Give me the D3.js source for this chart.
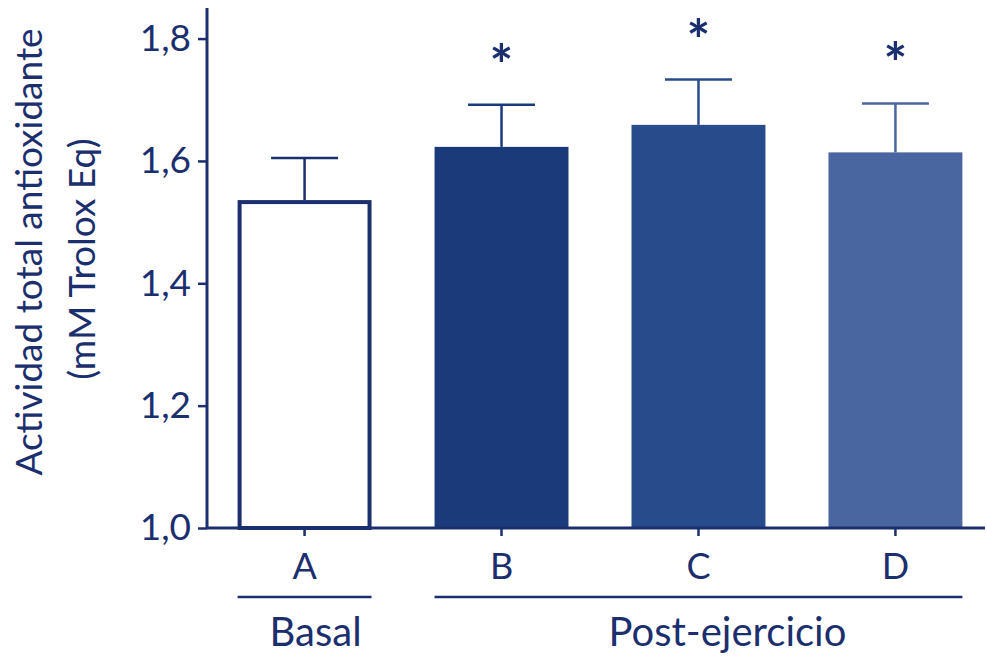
<!DOCTYPE html>
<html>
<head>
<meta charset="utf-8">
<script src="https://cdn.jsdelivr.net/npm/d3@7"></script>
<style>
  body { margin: 0; background: #fff; }
  svg text { font-family: Lato, "Open Sans", sans-serif; fill: #1b2f6e; }
</style>
</head>
<body>
<div id="chart"></div>
<script>
// data
const categories = ["A", "B", "C", "D"];
const means = [1.536, 1.623, 1.659, 1.614];
const errors = [0.069, 0.069, 0.074, 0.080];
const significant = [false, true, true, true];
const barColors = ["#ffffff", "#1b3a7a", "#284b8b", "#4a66a0"];
const yTicks = [1.0, 1.2, 1.4, 1.6, 1.8];
const groups = [
  {label: "Basal", from: "A", to: "A", shift: 11},
  {label: "Post-ejercicio", from: "B", to: "D", shift: 29}
];

const navy = "#1b2f6e";
const W = 987, H = 660;

const svg = d3.select("#chart").append("svg")
  .attr("width", W).attr("height", H);

const x = d3.scaleBand()
  .domain(categories)
  .range([212, 988])
  .paddingInner(0.32)
  .paddingOuter(0.13);

const y = d3.scaleLinear()
  .domain([1.0, 1.85])
  .range([528, 8]);

const data = categories.map((c, i) => ({
  cat: c, mean: means[i], err: errors[i], sig: significant[i], color: barColors[i]
}));

// bars
svg.selectAll("rect.bar")
  .data(data)
  .join("rect")
  .attr("class", "bar")
  .attr("x", (d, i) => i == 0 ? x(d.cat) + 2 : x(d.cat))
  .attr("width", (d, i) => i == 0 ? x.bandwidth() - 4 : x.bandwidth())
  .attr("y", (d, i) => i == 0 ? y(d.mean) + 2 : y(d.mean))
  .attr("height", (d, i) => i == 0 ? y(1.0) - y(d.mean) - 2 : y(1.0) - y(d.mean))
  .attr("fill", d => d.color)
  .attr("stroke", (d, i) => i == 0 ? navy : "none")
  .attr("stroke-width", 4);

// error bars (upper only)
const eb = svg.selectAll("g.err")
  .data(data)
  .join("g")
  .attr("class", "err")
  .attr("stroke", (d, i) => i == 0 ? navy : d.color)
  .attr("stroke-width", 2.5);

eb.append("line")
  .attr("x1", d => x(d.cat) + x.bandwidth() / 2)
  .attr("x2", d => x(d.cat) + x.bandwidth() / 2)
  .attr("y1", d => y(d.mean))
  .attr("y2", d => y(d.mean + d.err));

eb.append("line")
  .attr("x1", d => x(d.cat) + x.bandwidth() / 4)
  .attr("x2", d => x(d.cat) + x.bandwidth() * 3 / 4)
  .attr("y1", d => y(d.mean + d.err))
  .attr("y2", d => y(d.mean + d.err));

// asterisks
svg.selectAll("text.star")
  .data(data.filter(d => d.sig))
  .join("text")
  .attr("class", "star")
  .attr("x", d => x(d.cat) + x.bandwidth() / 2)
  .attr("y", d => y(d.mean + d.err) - 20)
  .attr("text-anchor", "middle")
  .style("font-size", "56px")
  .style("font-weight", "bold")
  .text("*");

// y axis
const yAxis = svg.append("g")
  .attr("transform", "translate(207,0)")
  .call(d3.axisLeft(y).tickValues(yTicks).tickSize(9).tickPadding(7)
    .tickFormat(d => d3.format(".1f")(d).replace(".", ",")));

yAxis.select(".domain").attr("stroke", navy).attr("stroke-width", 3)
  .attr("d", "M0," + y(1.85) + "V" + y(1.0));
yAxis.selectAll(".tick line").attr("stroke", navy).attr("stroke-width", 2.5);
yAxis.selectAll(".tick text").style("font-size", "37px").attr("fill", navy);

// x axis
const xAxis = svg.append("g")
  .attr("transform", "translate(0," + y(1.0) + ")")
  .call(d3.axisBottom(x).tickSize(8).tickPadding(17));

xAxis.select(".domain").attr("stroke", navy).attr("stroke-width", 3)
  .attr("d", "M207,0H985");
xAxis.selectAll(".tick line").attr("stroke", navy).attr("stroke-width", 2.5);
xAxis.selectAll(".tick text").style("font-size", "36px").attr("fill", navy);

// group lines and labels
groups.forEach(g => {
  const x0 = x(g.from), x1 = x(g.to) + x.bandwidth();
  svg.append("line")
    .attr("x1", x0).attr("x2", x1)
    .attr("y1", 597).attr("y2", 597)
    .attr("stroke", navy).attr("stroke-width", 2.5);
  svg.append("text")
    .attr("x", (x0 + x1) / 2 + g.shift)
    .attr("y", 646)
    .attr("text-anchor", "middle")
    .style("font-size", "40px")
    .text(g.label);
});

// y title
const yt = svg.append("text")
  .attr("transform", "translate(42,252) rotate(-90)")
  .attr("text-anchor", "middle")
  .style("font-size", "37px");
yt.append("tspan").attr("x", 0).attr("y", 0).text("Actividad total antioxidante");
yt.append("tspan").attr("x", -7).attr("y", 53).text("(mM Trolox Eq)");
</script>
</body>
</html>
